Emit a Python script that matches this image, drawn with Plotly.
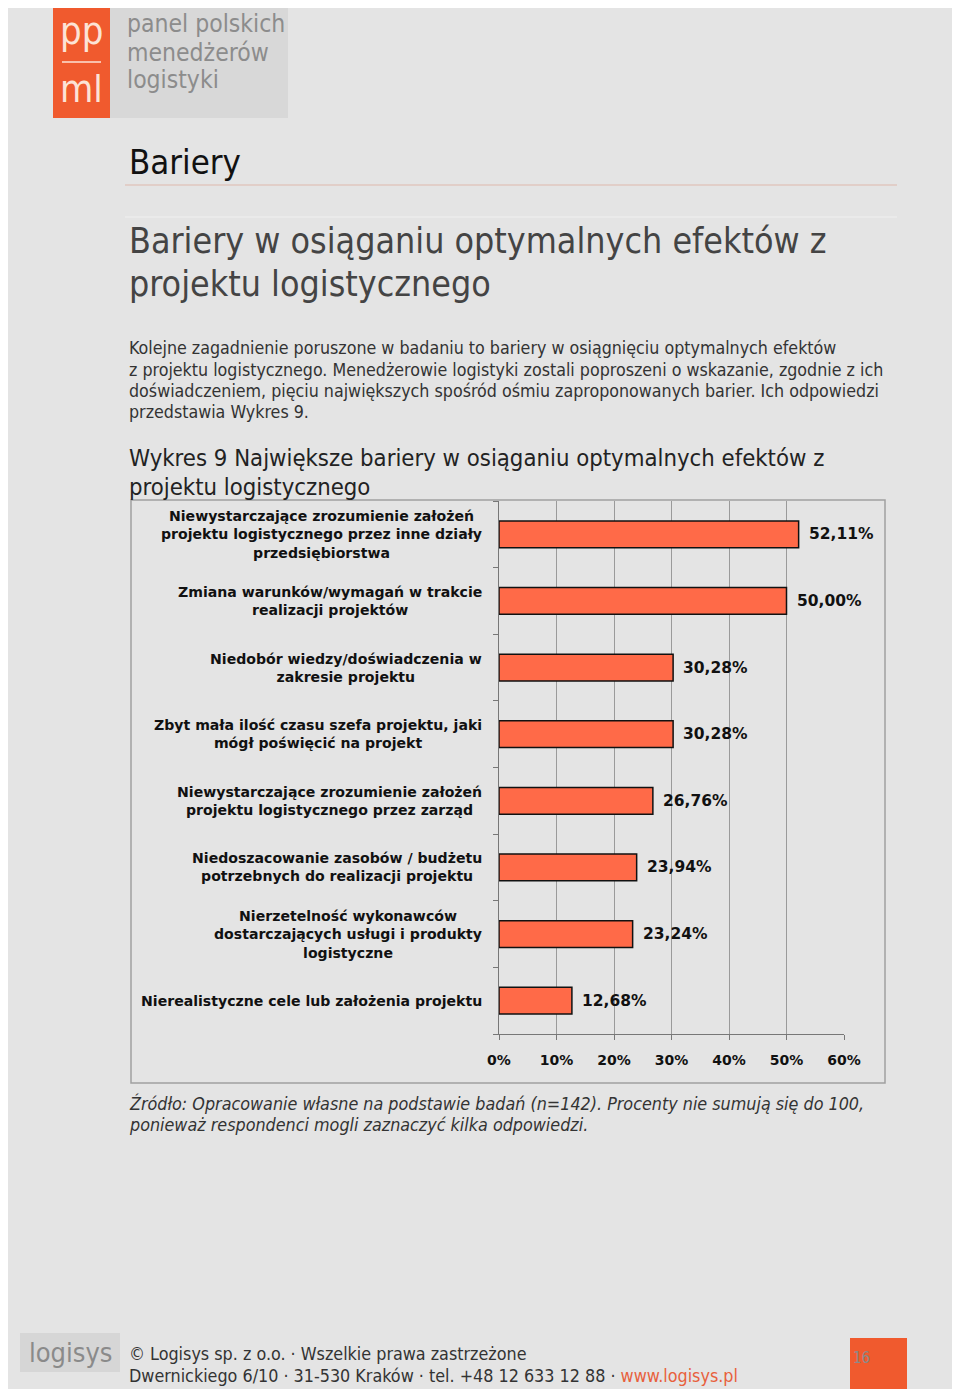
import plotly.graph_objects as go

# ---------------- data ----------------
categories = [
    "Niewystarczające zrozumienie założeń<br>projektu logistycznego przez inne działy<br>przedsiębiorstwa",
    "Zmiana warunków/wymagań w trakcie<br>realizacji projektów",
    "Niedobór wiedzy/doświadczenia w<br>zakresie projektu",
    "Zbyt mała ilość czasu szefa projektu, jaki<br>mógł poświęcić na projekt",
    "Niewystarczające zrozumienie założeń<br>projektu logistycznego przez zarząd",
    "Niedoszacowanie zasobów / budżetu<br>potrzebnych do realizacji projektu",
    "Nierzetelność wykonawców<br>dostarczających usługi i produkty<br>logistyczne",
    "Nierealistyczne cele lub założenia projektu",
]
values = [52.11, 50.00, 30.28, 30.28, 26.76, 23.94, 23.24, 12.68]
x_ticks = [0, 10, 20, 30, 40, 50, 60]
x_tick_labels = ["0%", "10%", "20%", "30%", "40%", "50%", "60%"]

# figure is sized to fit inside the page's default 8px body margin
OX, OY = 8, 8
W, H = 944, 1381
def px(x): return (x - OX) / W
def py(y): return 1 - (y - OY) / H

COND = "DejaVu Sans Condensed, DejaVu Sans, sans-serif"
SANS = "DejaVu Sans, sans-serif"
ORANGE = "#F05A2E"
BAR = "#FF6A48"

fig = go.Figure()
fig.add_trace(go.Bar(
    y=list(range(len(categories))), x=values, orientation="h",
    width=0.4,
    marker=dict(color=BAR, line=dict(color="#111111", width=1.5)),
    hoverinfo="skip", showlegend=False,
))

shapes = []
ann = []

def rrect(x0, y0, x1, y1, r):
    rx, ry = r / W, r / H
    X0, X1 = px(x0), px(x1)
    Y0, Y1 = py(y0), py(y1)
    return (f"M {X0+rx},{Y0} L {X1-rx},{Y0} Q {X1},{Y0} {X1},{Y0-ry} "
            f"L {X1},{Y1+ry} Q {X1},{Y1} {X1-rx},{Y1} L {X0+rx},{Y1} "
            f"Q {X0},{Y1} {X0},{Y1+ry} L {X0},{Y0-ry} Q {X0},{Y0} {X0+rx},{Y0} Z")

shapes.append(dict(type="path", xref="paper", yref="paper", layer="below",
                   path=rrect(3, 3, 957, 1394, 18), fillcolor="#E4E4E4",
                   line=dict(width=0)))

def rect(x0, y0, x1, y1, fill=None, line=None, lw=0, layer="below"):
    d = dict(type="rect", xref="paper", yref="paper", layer=layer,
             x0=px(x0), x1=px(x1), y0=py(y1), y1=py(y0),
             line=dict(width=lw, color=line or "rgba(0,0,0,0)"))
    d["fillcolor"] = fill if fill else "rgba(0,0,0,0)"
    shapes.append(d)

def hline(x0, x1, y, color, w=1):
    shapes.append(dict(type="line", xref="paper", yref="paper",
                       x0=px(x0), x1=px(x1), y0=py(y), y1=py(y),
                       line=dict(color=color, width=w)))

def text(x, y, s, size, color="#222", family=COND, xanchor="left",
         yanchor="middle", align="left", weight="normal", style="normal"):
    ann.append(dict(xref="paper", yref="paper", x=px(x), y=py(y), text=s,
                    showarrow=False, xanchor=xanchor, yanchor=yanchor, align=align,
                    font=dict(size=size, color=color, family=family,
                              weight=weight, style=style)))

# header logo
rect(110, 4, 288, 118, fill="#D8D8D8")
rect(53, 4, 110, 118, fill=ORANGE)
text(81.5, 31, "pp", 38, color="#FCE3D6", xanchor="center")
hline(62, 101, 62, "#FCE3D6", 1.5)
text(81.5, 89, "ml", 38, color="#FCE3D6", xanchor="center")
text(125, 24, "panel polskich", 24.5, color="#8C8C8C")
text(125, 52, "menedżerów", 24.5, color="#8C8C8C")
text(125, 80, "logistyki", 24.5, color="#8C8C8C")

# headings
text(127, 162, "Bariery", 34.5, color="#111")
hline(125, 897, 185, "#DDB8AC", 1.2)
hline(125, 897, 217, "#EFEFEF", 1.2)
text(127, 241, "Bariery w osiąganiu optymalnych efektów z", 35.5, color="#444")
text(127, 284, "projektu logistycznego", 35.5, color="#444")

para = [
    "Kolejne zagadnienie poruszone w badaniu to bariery w osiągnięciu optymalnych efektów",
    "z projektu logistycznego. Menedżerowie logistyki zostali poproszeni o wskazanie, zgodnie z ich",
    "doświadczeniem, pięciu największych spośród ośmiu zaproponowanych barier. Ich odpowiedzi",
    "przedstawia Wykres 9.",
]
for i, s in enumerate(para):
    text(127, 348 + i * 21.5, s, 17.7, color="#333")

text(127, 458, "Wykres 9 Największe bariery w osiąganiu optymalnych efektów z", 23.7, color="#222")
text(127, 487, "projektu logistycznego", 23.7, color="#222")

# chart frame
rect(131, 500, 885, 1083, line="#A0A0A0", lw=1.5, layer="above")

# category labels (positioned on the y axis scale)
for i, c in enumerate(categories):
    ann.append(dict(xref="paper", yref="y", x=px(484), y=i, text=c, showarrow=False,
                    xanchor="right", yanchor="middle", align="center",
                    font=dict(size=14.1, color="#111", family=SANS, weight="bold")))

# value labels
for i, v in enumerate(values):
    lab = f"{v:.2f}".replace(".", ",") + "%"
    ann.append(dict(xref="x", yref="y", x=v, y=i, text=lab, showarrow=False,
                    xanchor="left", yanchor="middle", xshift=8,
                    font=dict(size=15.5, color="#111", family=SANS, weight="bold")))

# footnote
text(127, 1103, "Źródło: Opracowanie własne na podstawie badań (n=142). Procenty nie sumują się do 100,",
     17.8, color="#333", style="italic")
text(127, 1124, "ponieważ respondenci mogli zaznaczyć kilka odpowiedzi.", 17.8, color="#333", style="italic")

# footer
rect(20, 1333, 120, 1372, fill="#D6D6D6")
text(27, 1352, "logisys", 27, color="#8A8A8A")
text(127, 1353, "© Logisys sp. z o.o. · Wszelkie prawa zastrzeżone", 17.8, color="#333")
text(127, 1375, "Dwernickiego 6/10 · 31-530 Kraków · tel. +48 12 633 12 88 · "
     "<span style='color:#E8603C'>www.logisys.pl</span>", 17.8, color="#333")
rect(850, 1338, 907, 1394, fill=ORANGE)
text(851, 1358, "16", 15, color="#8A8A8A")

fig.update_layout(
    width=W, height=H, margin=dict(l=0, r=0, t=0, b=0, pad=0, autoexpand=False),
    paper_bgcolor="white", plot_bgcolor="rgba(0,0,0,0)",
    shapes=shapes, annotations=ann, showlegend=False,
    xaxis=dict(domain=[px(499), px(844)], range=[0, 60], tickvals=x_ticks,
               ticktext=x_tick_labels, showgrid=True, gridcolor="#9A9A9A",
               gridwidth=1, zeroline=False, showline=True, linecolor="#777",
               linewidth=1, ticks="outside", ticklen=5, tickcolor="#777",
               ticklabelstandoff=8, automargin=False,
               tickfont=dict(size=14, color="#111", family=SANS, weight="bold"),
               fixedrange=True),
    yaxis=dict(domain=[py(1034), py(501)], range=[7.5, -0.5],
               tickvals=[k - 0.5 for k in range(len(categories) + 1)],
               showticklabels=False, ticks="outside", ticklen=5, tickcolor="#777",
               showgrid=False, zeroline=False, showline=True, linecolor="#777",
               linewidth=1, automargin=False, fixedrange=True),
)

fig.write_html("out.html")
